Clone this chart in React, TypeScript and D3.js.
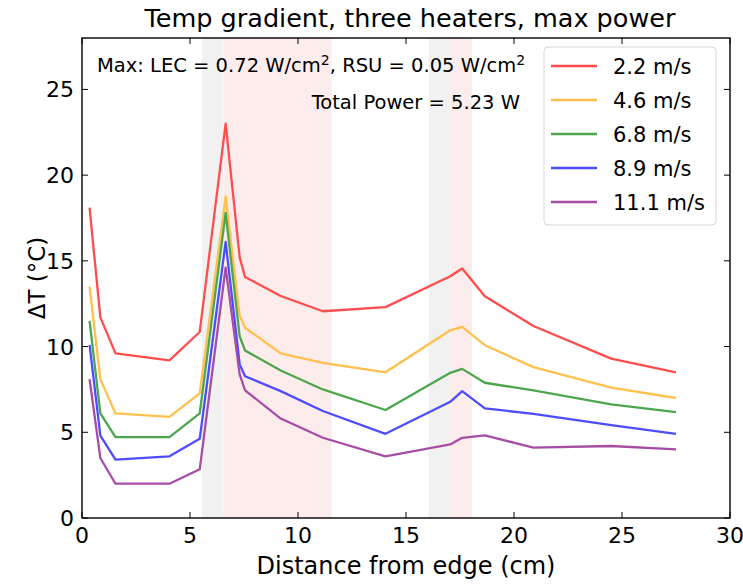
import React from "react";
import * as d3 from "d3";

// distance from edge (cm) where the sensors sit
const positions = [0.35, 0.85, 1.55, 4.05, 5.45, 6.65, 7.3, 7.55, 9.2, 11.15, 14.05, 17.05, 17.6, 18.65, 20.9, 24.5, 27.5];

const speeds = ["2.2 m/s", "4.6 m/s", "6.8 m/s", "8.9 m/s", "11.1 m/s"];
const colors = ["#ff4d4d", "#ffc04d", "#4da64d", "#4d4dff", "#a64da6"];

const dT22 = [18.1, 11.7, 9.6, 9.2, 10.85, 23.0, 15.2, 14.06, 12.95, 12.06, 12.3, 14.1, 14.55, 12.94, 11.2, 9.3, 8.5];
const dT46 = [13.5, 8.1, 6.1, 5.9, 7.27, 18.75, 11.8, 11.1, 9.6, 9.05, 8.5, 10.95, 11.15, 10.08, 8.8, 7.6, 7.0];
const dT68 = [11.5, 6.1, 4.72, 4.72, 6.1, 17.8, 10.6, 9.77, 8.6, 7.5, 6.3, 8.47, 8.7, 7.89, 7.44, 6.63, 6.18];
const dT89 = [10.1, 4.8, 3.4, 3.6, 4.62, 16.1, 8.96, 8.27, 7.4, 6.24, 4.91, 6.78, 7.4, 6.39, 6.08, 5.42, 4.91];
const dT111 = [8.1, 3.5, 2.0, 2.0, 2.84, 14.6, 8.38, 7.45, 5.8, 4.68, 3.6, 4.29, 4.68, 4.82, 4.1, 4.2, 4.0];
const series = [dT22, dT46, dT68, dT89, dT111];

// heater regions: [start, end, kind]
const heaters: [number, number, string][] = [
  [5.55, 6.55, "grey"],
  [6.55, 11.55, "pink"],
  [16.05, 17.05, "grey"],
  [17.05, 18.05, "pink"],
];

const xTicks = [0, 5, 10, 15, 20, 25, 30];
const yTicks = [0, 5, 10, 15, 20, 25];

const W = 743, H = 584;
const margin = { top: 38, right: 13, bottom: 66, left: 82 };
const font = "DejaVu Sans, sans-serif";

export default function App() {
  const x = d3.scaleLinear().domain([0, 30]).range([margin.left, W - margin.right]);
  const y = d3.scaleLinear().domain([0, 28]).range([H - margin.bottom, margin.top]);
  const line = d3.line<number>().x((_, i) => x(positions[i])).y(d => y(d));

  const top = margin.top, bottom = H - margin.bottom, left = margin.left, right = W - margin.right;
  const tick = 6;

  return (
    <svg width={W} height={H} style={{ position: "absolute", left: 0, top: 0, background: "#fff" }} fontFamily={font}>
      {/* heater bands */}
      {heaters.map(([a, b, k], i) => (
        <rect key={i} x={x(a)} y={top} width={x(b) - x(a)} height={bottom - top}
          fill={k === "grey" ? "#f1f1f1" : "#fdecec"} />
      ))}

      {series.map((s, i) => (
        <path key={i} d={line(s) || ""} fill="none" stroke={colors[i]} strokeWidth={2.3} strokeLinejoin="round" />
      ))}

      {/* frame */}
      <rect x={left} y={top} width={right - left} height={bottom - top} fill="none" stroke="#000" strokeWidth={1.4} />

      {xTicks.map(t => (
        <g key={"x" + t}>
          <line x1={x(t)} x2={x(t)} y1={bottom} y2={bottom - tick} stroke="#000" />
          <line x1={x(t)} x2={x(t)} y1={top} y2={top + tick} stroke="#000" />
          <text x={x(t)} y={bottom + 25} textAnchor="middle" fontSize={22}>{t}</text>
        </g>
      ))}
      {yTicks.map(t => (
        <g key={"y" + t}>
          <line x1={left} x2={left + tick} y1={y(t)} y2={y(t)} stroke="#000" />
          <line x1={right} x2={right - tick} y1={y(t)} y2={y(t)} stroke="#000" />
          <text x={left - 8} y={y(t) + 8} textAnchor="end" fontSize={22}>{t}</text>
        </g>
      ))}

      <text x={(left + right) / 2 + 4} y={27} textAnchor="middle" fontSize={25.5}>Temp gradient, three heaters, max power</text>
      <text x={(left + right) / 2} y={574} textAnchor="middle" fontSize={24}>Distance from edge (cm)</text>
      <text transform={`translate(45,${(top + bottom) / 2}) rotate(-90)`} textAnchor="middle" fontSize={23}>ΔT (°C)</text>

      <text x={97} y={72} fontSize={19.5}>
        Max: LEC = 0.72 W/cm<tspan dy={-7} fontSize={14}>2</tspan><tspan dy={7}>, RSU = 0.05 W/cm</tspan><tspan dy={-7} fontSize={14}>2</tspan>
      </text>
      <text x={520} y={109} textAnchor="end" fontSize={19.5}>Total Power = 5.23 W</text>

      {/* legend */}
      <rect x={544} y={47} width={172} height={178} rx={4} fill="#fff" fillOpacity={0.8} stroke="#d5d5d5" />
      {speeds.map((s, i) => (
        <g key={s} transform={`translate(0,${66 + i * 34})`}>
          <line x1={551} x2={597} y1={0} y2={0} stroke={colors[i]} strokeWidth={2.3} />
          <text x={613} y={8} fontSize={21}>{s}</text>
        </g>
      ))}
    </svg>
  );
}
